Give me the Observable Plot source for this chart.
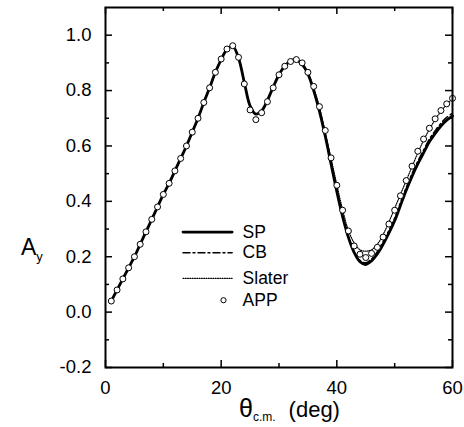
<!DOCTYPE html>
<html><head><meta charset="utf-8">
<script src="https://cdn.jsdelivr.net/npm/d3@7"></script>
<script src="https://cdn.jsdelivr.net/npm/@observablehq/plot@0.6"></script>
<style>body{margin:0;background:#fff}svg{font-family:"Liberation Sans",Arial,sans-serif}</style>
</head><body><div id="chart"></div>
<script>
const theta = d3.range(1, 61);
const app = [0.04,0.08,0.12,0.16,0.20,0.245,0.29,0.335,0.38,0.425,0.465,0.51,0.555,0.60,0.65,0.70,0.757,0.81,0.866,0.914,0.95,0.962,0.92,0.824,0.73,0.695,0.72,0.76,0.81,0.857,0.888,0.905,0.912,0.90,0.866,0.815,0.742,0.656,0.557,0.458,0.368,0.293,0.239,0.209,0.197,0.212,0.234,0.271,0.318,0.368,0.42,0.475,0.527,0.581,0.625,0.664,0.698,0.728,0.752,0.772];
const sp = [0.04,0.08,0.12,0.16,0.20,0.245,0.29,0.335,0.38,0.425,0.465,0.51,0.555,0.60,0.65,0.70,0.757,0.81,0.866,0.912,0.948,0.96,0.918,0.83,0.745,0.715,0.727,0.765,0.813,0.857,0.889,0.907,0.911,0.895,0.86,0.80,0.725,0.635,0.535,0.435,0.345,0.27,0.215,0.182,0.172,0.185,0.21,0.245,0.285,0.33,0.385,0.44,0.49,0.535,0.575,0.615,0.645,0.672,0.693,0.708];
const cb = [0.04,0.08,0.12,0.16,0.20,0.245,0.29,0.335,0.38,0.425,0.465,0.51,0.555,0.60,0.65,0.70,0.757,0.81,0.866,0.912,0.948,0.96,0.918,0.83,0.745,0.715,0.727,0.765,0.813,0.857,0.889,0.907,0.911,0.895,0.86,0.80,0.727,0.638,0.538,0.438,0.348,0.273,0.218,0.187,0.178,0.192,0.218,0.254,0.295,0.34,0.395,0.45,0.5,0.545,0.585,0.625,0.655,0.682,0.703,0.718];
const slater = [0.04,0.08,0.12,0.16,0.20,0.245,0.29,0.335,0.38,0.425,0.465,0.51,0.555,0.60,0.65,0.70,0.757,0.81,0.866,0.912,0.948,0.96,0.918,0.83,0.745,0.715,0.727,0.765,0.813,0.857,0.889,0.907,0.912,0.898,0.865,0.81,0.74,0.65,0.555,0.46,0.37,0.295,0.25,0.225,0.22,0.225,0.245,0.28,0.325,0.375,0.425,0.475,0.525,0.575,0.62,0.66,0.695,0.725,0.75,0.77];
const series = ["SP", "CB", "Slater", "APP"];
const xTicks = [0, 20, 40, 60];
const xMinor = [10, 30, 50];
const yTicks = [-0.2, 0.0, 0.2, 0.4, 0.6, 0.8, 1.0];
const yMinor = [-0.1, 0.1, 0.3, 0.5, 0.7, 0.9];

const W = 464, H = 427, mL = 105, mR = 12, mT = 7, mB = 60;
const fw = W - mL - mR, fh = H - mT - mB;
const mk = arr => theta.map((t, i) => ({t, v: arr[i]}));
// legend placement (data units)
const legY = [0.289, 0.214, 0.122, 0.043];
const legLine = series.slice(0, 3).flatMap((s, i) => [{s, t: 13.4, v: legY[i]}, {s, t: 21.9, v: legY[i]}]);
const legText = series.map((s, i) => ({s, t: 23.7, v: legY[i]}));

const styles = {
  SP: {stroke: "#000", strokeWidth: 2.8},
  CB: {stroke: "#000", strokeWidth: 1.5, strokeDasharray: "7,3,2,3"},
  Slater: {stroke: "#000", strokeWidth: 1.2, strokeDasharray: "1,1.3"}
};
const curveData = {SP: sp, CB: cb, Slater: slater};

const marks = [];
for (const s of ["Slater", "CB", "SP"]) {
  marks.push(Plot.line(mk(curveData[s]), {x: "t", y: "v", curve: "catmull-rom", ...styles[s]}));
  marks.push(Plot.line(legLine.filter(d => d.s === s), {x: "t", y: "v", ...styles[s]}));
}
marks.push(Plot.dot(mk(app), {x: "t", y: "v", r: 3, fill: "#fff", stroke: "#000", strokeWidth: 1}));
marks.push(Plot.dot([{t: 20.4, v: legY[3]}], {x: "t", y: "v", r: 2.6, fill: "#fff", stroke: "#000", strokeWidth: 1}));
marks.push(Plot.text(legText, {x: "t", y: "v", text: "s", textAnchor: "start", fontSize: 17.5, fill: "#000"}));
// inward ticks
marks.push(Plot.ruleX(xTicks, {insetTop: fh - 7, stroke: "#000", strokeWidth: 1.5}));
marks.push(Plot.ruleX(xTicks, {insetBottom: fh - 7, stroke: "#000", strokeWidth: 1.5}));
marks.push(Plot.ruleX(xMinor, {insetTop: fh - 4, stroke: "#000", strokeWidth: 1.5}));
marks.push(Plot.ruleX(xMinor, {insetBottom: fh - 4, stroke: "#000", strokeWidth: 1.5}));
marks.push(Plot.ruleY(yTicks, {insetRight: fw - 7, stroke: "#000", strokeWidth: 1.5}));
marks.push(Plot.ruleY(yTicks, {insetLeft: fw - 7, stroke: "#000", strokeWidth: 1.5}));
marks.push(Plot.ruleY(yMinor, {insetRight: fw - 4, stroke: "#000", strokeWidth: 1.5}));
marks.push(Plot.ruleY(yMinor, {insetLeft: fw - 4, stroke: "#000", strokeWidth: 1.5}));
marks.push(Plot.frame({stroke: "#000", strokeWidth: 2}));
marks.push(Plot.axisX({ticks: xTicks, tickSize: 0, tickPadding: 13, tickFormat: d => String(d), fontSize: 18.5, label: null}));
marks.push(Plot.axisY({ticks: yTicks, tickSize: 0, tickPadding: 14, tickFormat: d => d.toFixed(1), fontSize: 18.5, label: null}));

const svg = Plot.plot({
  width: W, height: H,
  marginLeft: mL, marginRight: mR, marginTop: mT, marginBottom: mB,
  x: {domain: [0, 60]},
  y: {domain: [-0.2, 1.1]},
  style: {fontFamily: "'Liberation Sans', Arial, sans-serif", color: "#000", background: "#fff"},
  marks
});
const s = d3.select(svg);
s.selectAll("[aria-label='x-axis tick label'] text, [aria-label='y-axis tick label'] text").attr("fill", "#000");
// y-axis title: A_y
const yl = s.append("text").attr("x", 21).attr("y", 255).attr("text-anchor", "start").attr("font-size", 23).attr("fill", "#000");
yl.append("tspan").text("A");
yl.append("tspan").attr("font-size", 13).attr("dy", 6).text("y");
// x-axis title: θ_c.m. (deg)
const xl = s.append("text").attr("x", 239).attr("y", 417).attr("text-anchor", "start").attr("font-size", 25).attr("fill", "#000");
xl.append("tspan").text("θ");
xl.append("tspan").attr("font-size", 12).attr("dy", 4).text("c.m.");
xl.append("tspan").attr("font-size", 22).attr("dy", -4).attr("dx", 13).text("(deg)");
document.getElementById("chart").append(svg);
</script></body></html>
